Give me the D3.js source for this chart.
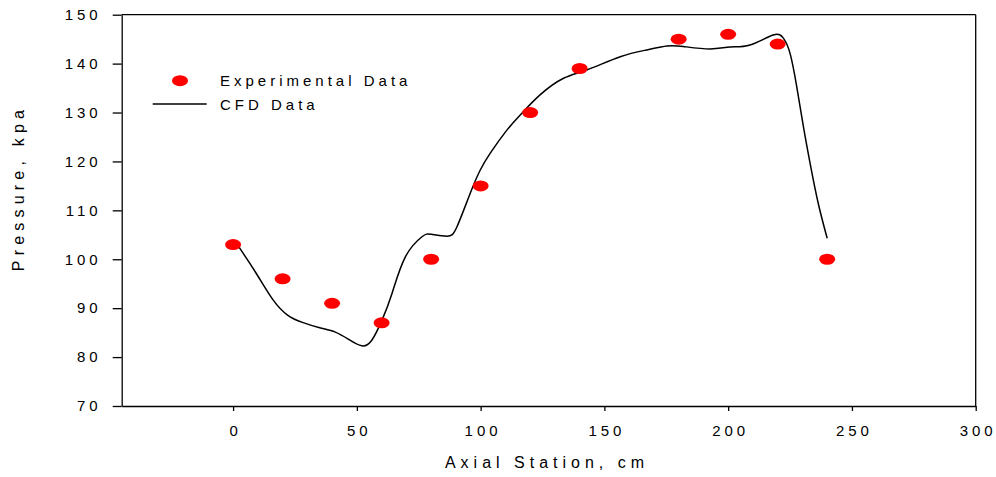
<!DOCTYPE html>
<html>
<head>
<meta charset="utf-8">
<script src="https://cdn.jsdelivr.net/npm/d3@7"></script>
<style>
  body { margin: 0; background: #fff; }
  svg { display: block; font-family: "Liberation Sans", Arial, sans-serif; }
</style>
</head>
<body>
<svg width="996" height="477"></svg>
<script>
// experimental points
const expX = [0, 20, 40, 60, 80, 100, 120, 140, 180, 200, 220, 240];
const expY = [103, 96, 91, 87, 100, 115, 130, 139, 145, 146, 144, 100];

// CFD curve
const cfdX = [0.9, 9, 16, 22, 28, 35, 41.3, 46.7, 52, 56.1, 60.2, 64.2, 69.6, 76.3, 80, 86.4, 90.4, 95.8, 99.8, 103.9, 110.6, 116, 124, 133.5, 142.9, 156.4, 167.1, 175.2, 181.9, 192.7, 200.8, 208.8, 218.2, 222.3, 225, 227.7, 230.4, 233.1, 236.4, 240];
const cfdY = [103.6, 97.4, 91.8, 88.6, 87.1, 86, 85.1, 83.6, 82.3, 83.5, 87.6, 93, 100.5, 104.6, 105.1, 104.7, 106.6, 113.5, 118.2, 121.7, 126.4, 129.5, 133.6, 137, 138.7, 141.4, 142.8, 143.6, 143.5, 143, 143.4, 143.8, 145.85, 145.2, 142.1, 135.3, 127.1, 119.6, 111.4, 104.3];

const xTicks = [0, 50, 100, 150, 200, 250, 300];
const yTicks = [70, 80, 90, 100, 110, 120, 130, 140, 150];

const svg = d3.select("svg");
const ls = 4; // wide letter spacing like the original

const x = d3.scaleLinear().domain([-45, 300]).range([121.7, 975.7]);
const y = d3.scaleLinear().domain([70, 150]).range([406, 14.7]);

// frame: top and right
svg.append("line")
  .attr("x1", x(-45)).attr("x2", x(300))
  .attr("y1", y(150)).attr("y2", y(150))
  .attr("stroke", "#000").attr("stroke-width", 1.3);
svg.append("line")
  .attr("x1", x(300)).attr("x2", x(300))
  .attr("y1", y(150)).attr("y2", y(70))
  .attr("stroke", "#000").attr("stroke-width", 1.3);

// axes
const gy = svg.append("g")
  .attr("transform", `translate(${x(-45)},0)`)
  .call(d3.axisLeft(y).tickValues(yTicks).tickSize(9).tickSizeOuter(0).tickPadding(15));
const gx = svg.append("g")
  .attr("transform", `translate(0,${y(70)})`)
  .call(d3.axisBottom(x).tickValues(xTicks).tickSize(5).tickSizeOuter(0).tickPadding(14));

[gx, gy].forEach((g) => {
  g.select(".domain").attr("stroke", "#000").attr("stroke-width", 1.3);
  g.selectAll(".tick line").attr("stroke", "#000").attr("stroke-width", 1.3);
  g.selectAll(".tick text")
    .attr("font-size", 15)
    .attr("font-family", "Liberation Sans, Arial, sans-serif")
    .attr("fill", "#000")
    .style("letter-spacing", ls + "px");
});
gx.selectAll(".tick text").attr("dx", ls / 2);
gy.selectAll(".tick text").attr("dx", ls);

// axis titles
svg.append("text")
  .attr("x", 547).attr("y", 468)
  .attr("text-anchor", "middle")
  .attr("font-size", 16)
  .style("letter-spacing", "5px")
  .text("Axial Station, cm");

svg.append("text")
  .attr("transform", "translate(24,188) rotate(-90)")
  .attr("text-anchor", "middle")
  .attr("font-size", 16)
  .style("letter-spacing", "5.2px")
  .text("Pressure, kpa");

// CFD line
const line = d3.line()
  .x((d, i) => x(cfdX[i]))
  .y((d) => y(d))
  .curve(d3.curveNatural);

svg.append("path")
  .attr("d", line(cfdY))
  .attr("fill", "none")
  .attr("stroke", "#000")
  .attr("stroke-width", 1.5);

// experimental dots
svg.selectAll(".dot")
  .data(expY)
  .enter()
  .append("ellipse")
  .attr("class", "dot")
  .attr("cx", (d, i) => x(expX[i]))
  .attr("cy", (d) => y(d))
  .attr("rx", 8)
  .attr("ry", 5.5)
  .attr("fill", "#ff0000");

// legend
svg.append("ellipse")
  .attr("cx", 180).attr("cy", 80.7)
  .attr("rx", 8).attr("ry", 5.5)
  .attr("fill", "#ff0000");
svg.append("text")
  .attr("x", 220).attr("y", 86)
  .attr("font-size", 15)
  .style("letter-spacing", ls + "px")
  .text("Experimental Data");
svg.append("line")
  .attr("x1", 152.7).attr("x2", 206.7)
  .attr("y1", 104).attr("y2", 104)
  .attr("stroke", "#000").attr("stroke-width", 1.5);
svg.append("text")
  .attr("x", 220).attr("y", 109.5)
  .attr("font-size", 15)
  .style("letter-spacing", ls + "px")
  .text("CFD Data");
</script>
</body>
</html>
